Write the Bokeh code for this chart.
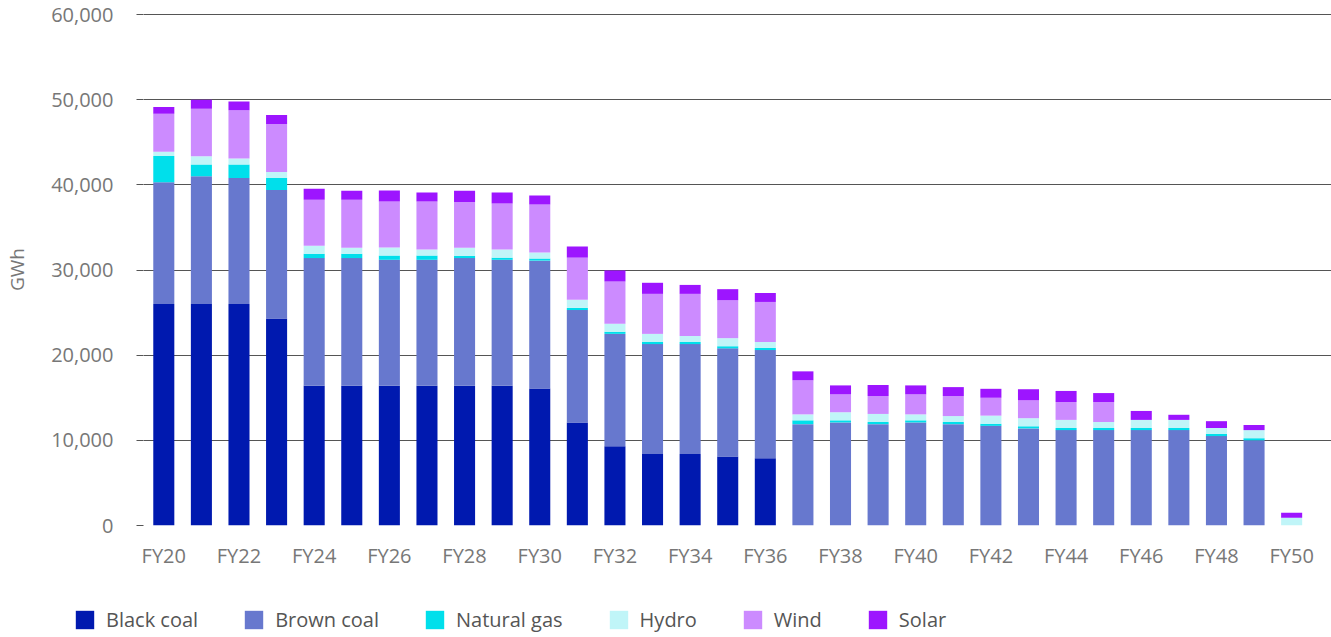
from bokeh.plotting import figure
from bokeh.layouts import column
from bokeh.models import Range1d, FixedTicker, NumeralTickFormatter, Legend, LegendItem, ColumnDataSource
from bokeh.embed import file_html
from bokeh.resources import INLINE

# Annual generation by fuel type (GWh)
years = ["FY%02d" % y for y in range(20, 51)]

black_coal = [26000, 26000, 26000, 24300, 16400, 16400, 16400, 16400, 16400, 16400, 16100,
              12100, 9300, 8400, 8400, 8100, 7900,
              0, 0, 0, 0, 0, 0, 0, 0, 0, 0, 0, 0, 0, 0]
brown_coal = [14300, 15000, 14800, 15100, 15000, 15000, 14800, 14800, 15000, 14800, 15000,
              13200, 13200, 12900, 12900, 12700, 12700,
              11900, 12100, 11900, 12100, 11900, 11700, 11400, 11200, 11200, 11200, 11200,
              10500, 10000, 0]
natural_gas = [3100, 1400, 1600, 1400, 500, 500, 500, 500, 250, 250, 250,
               250, 250, 250, 250, 250, 250,
               450, 250, 250, 250, 250, 250, 250, 250, 250, 250, 250, 250, 250, 0]
hydro = [500, 950, 700, 700, 950, 700, 950, 700, 950, 950, 700,
         950, 950, 950, 700, 950, 700,
         700, 950, 950, 700, 700, 950, 950, 950, 700, 950, 950, 700, 950, 900]
wind = [4450, 5600, 5650, 5650, 5400, 5650, 5400, 5650, 5400, 5400, 5650,
        4950, 4950, 4700, 4950, 4450, 4700,
        4000, 2100, 2100, 2350, 2350, 2100, 2100, 2100, 2350, 0, 0, 0, 0, 0]
solar = [800, 1050, 1050, 1050, 1300, 1050, 1300, 1050, 1300, 1300, 1050,
         1300, 1300, 1300, 1050, 1300, 1050,
         1050, 1050, 1300, 1050, 1050, 1050, 1300, 1300, 1050, 1050, 600, 800, 600, 600]

series_names = ["Black coal", "Brown coal", "Natural gas", "Hydro", "Wind", "Solar"]
series_keys = ["black", "brown", "gas", "hydro", "wind", "solar"]
colors = ["#0019AF", "#6778CE", "#00DFEB", "#C0F5F8", "#CC8BFF", "#9D15FF"]

y_ticks = [0, 10000, 20000, 30000, 40000, 50000, 60000]

FONT = "Open Sans"
GRID = "#555555"
TICK_TEXT = "#777777"

source = ColumnDataSource(dict(
    x=list(range(len(years))),
    black=black_coal, brown=brown_coal, gas=natural_gas,
    hydro=hydro, wind=wind, solar=solar,
))

# ---- main chart -------------------------------------------------------------
p = figure(width=1331, height=580, output_backend="svg", toolbar_location=None,
           x_range=Range1d(-0.54, 31.06), y_range=Range1d(0, 60120),
           min_border_left=143, min_border_right=0, min_border_top=13,
           min_border_bottom=55)
p.outline_line_color = None

p.vbar_stack(series_keys, x="x", width=0.56, color=colors, source=source, line_color=None)

# x axis: FY labels on every second bar
p.xaxis.ticker = FixedTicker(ticks=list(range(0, len(years), 2)))
p.xaxis.major_label_overrides = {i: years[i] for i in range(0, len(years), 2)}
p.xaxis.axis_line_color = None
p.xaxis.major_tick_line_color = None
p.xaxis.minor_tick_line_color = None
p.xaxis.major_label_standoff = 10
p.xaxis.major_label_text_font = FONT
p.xaxis.major_label_text_font_size = "20px"
p.xaxis.major_label_text_color = TICK_TEXT

# y axis
p.yaxis.ticker = FixedTicker(ticks=y_ticks)
p.yaxis.formatter = NumeralTickFormatter(format="0,0")
p.yaxis.axis_line_color = None
p.yaxis.major_tick_line_color = GRID
p.yaxis.major_tick_out = 7
p.yaxis.major_tick_in = 0
p.yaxis.minor_tick_line_color = None
p.yaxis.major_label_standoff = 23
p.yaxis.major_label_text_font = FONT
p.yaxis.major_label_text_font_size = "20px"
p.yaxis.major_label_text_color = TICK_TEXT
p.yaxis.axis_label = "GWh"
p.yaxis.axis_label_standoff = 18
p.yaxis.axis_label_text_font = FONT
p.yaxis.axis_label_text_font_size = "19px"
p.yaxis.axis_label_text_font_style = "normal"
p.yaxis.axis_label_text_color = TICK_TEXT

p.xgrid.grid_line_color = None
p.ygrid.grid_line_color = GRID
p.ygrid.grid_line_width = 1

# ---- legend strip -----------------------------------------------------------
leg = figure(width=1331, height=57, output_backend="svg", toolbar_location=None,
             x_range=Range1d(-0.54, 31.06), y_range=Range1d(0, 1),
             x_axis_location=None, y_axis_location=None, min_border=0)
leg.frame_align = False  # keep the strip's frame spanning the full width
leg.grid.visible = False
leg.outline_line_color = None
swatches = leg.vbar_stack(series_keys, x="x", width=0.56, color=colors, source=source,
                          line_color=None)
for r in swatches:
    r.visible = False  # used only for the legend swatches

legend = Legend(
    items=[LegendItem(label=n, renderers=[r]) for n, r in zip(series_names, swatches)],
    orientation="horizontal", location=(73, 4),
    glyph_width=23, glyph_height=23, label_standoff=10, spacing=44,
    padding=0, margin=0, border_line_color=None, background_fill_alpha=0,
    label_text_font=FONT, label_text_font_size="20px", label_text_color="#555555",
    label_height=23,
)
leg.add_layout(legend, "center")

layout = column(p, leg, spacing=0)
open("out.html", "w").write(file_html(layout, INLINE))
